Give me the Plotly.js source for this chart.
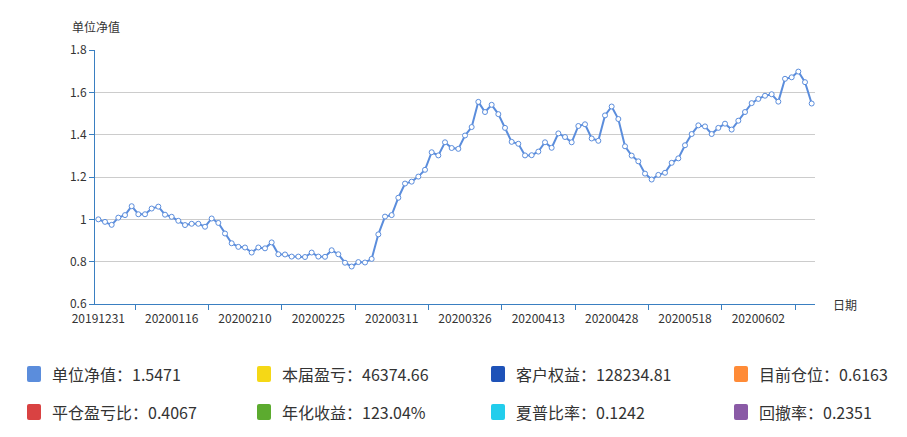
<!DOCTYPE html>
<html>
<head>
<meta charset="utf-8">
<script src="https://cdn.plot.ly/plotly-3.0.1.min.js"></script>
<style>
html,body{margin:0;padding:0;background:#fff;}
#chart{width:907px;height:437px;}
</style>
</head>
<body>
<div id="chart"></div>
<script>
// trading dates (categories)
const dates = [
"20191231",
"20200102","20200103","20200106","20200107","20200108","20200109","20200110","20200113","20200114","20200115",
"20200116","20200117","20200120","20200121","20200122","20200123",
"20200203","20200204","20200205","20200206","20200207",
"20200210","20200211","20200212","20200213","20200214","20200217","20200218","20200219","20200220","20200221",
"20200224","20200225","20200226","20200227","20200228",
"20200302","20200303","20200304","20200305","20200306","20200309","20200310",
"20200311","20200312","20200313","20200316","20200317","20200318","20200319","20200320","20200323","20200324","20200325",
"20200326","20200327","20200330","20200331",
"20200401","20200402","20200403","20200407","20200408","20200409","20200410",
"20200413","20200414","20200415","20200416","20200417","20200420","20200421","20200422","20200423","20200424","20200427",
"20200428","20200429","20200430",
"20200506","20200507","20200508","20200511","20200512","20200513","20200514","20200515",
"20200518","20200519","20200520","20200521","20200522","20200525","20200526","20200527","20200528","20200529",
"20200601","20200602","20200603","20200604","20200605","20200608","20200609","20200610","20200611","20200612"
];

// unit net value series
const navValues = [
1.000,0.988,0.974,1.008,1.020,1.062,1.024,1.024,1.051,1.060,
1.022,1.012,0.993,0.973,0.979,0.979,0.965,1.004,0.983,0.933,
0.887,0.870,0.867,0.843,0.867,0.863,0.891,0.835,0.834,0.824,
0.824,0.822,0.843,0.824,0.823,0.854,0.835,0.795,0.777,0.798,
0.796,0.813,0.929,1.013,1.020,1.102,1.169,1.178,1.202,1.234,
1.317,1.302,1.364,1.337,1.333,1.396,1.436,1.555,1.507,1.541,
1.497,1.432,1.366,1.357,1.302,1.303,1.320,1.364,1.338,1.406,
1.389,1.364,1.441,1.449,1.382,1.371,1.491,1.533,1.474,1.345,
1.301,1.274,1.216,1.188,1.210,1.220,1.267,1.288,1.350,1.403,
1.444,1.439,1.403,1.432,1.452,1.424,1.466,1.507,1.549,1.569,
1.584,1.591,1.556,1.664,1.671,1.698,1.648,1.5471
];

// stats legend
const statLabels = ["单位净值","本届盈亏","客户权益","目前仓位","平仓盈亏比","年化收益","夏普比率","回撤率"];
const statValues = ["1.5471","46374.66","128234.81","0.6163","0.4067","123.04%","0.1242","0.2351"];
const statColors = ["#5b8ddc","#f5d816","#1e52b8","#ff8b37","#d94242","#5cab2f","#22cdec","#8a5aa6"];

const yTitle = "单位净值";
const xTitle = "日期";

const lineColor = "#5b8ddc";
const axisColor = "#3a7fc1";
const font = "'Noto Sans CJK SC','Noto Sans',sans-serif";

const labelStep = 11;
const tickDates = dates.filter((d,i)=> i % labelStep === 0);
const betweenTicks = [];
for (let i = labelStep/2; i < dates.length; i += labelStep) betweenTicks.push(i);

const trace = {
  type: "scatter",
  mode: "lines+markers",
  x: dates,
  y: navValues,
  line: {color: lineColor, width: 2},
  marker: {symbol: "circle", size: 5, color: "#ffffff", line: {color: lineColor, width: 1}},
  hoverinfo: "x+y",
  showlegend: false
};

// empty helper trace so the tick-only overlay axis is drawn
const tickHelper = {
  type: "scatter", mode: "lines",
  x: betweenTicks, y: betweenTicks.map(() => null),
  xaxis: "x2", yaxis: "y",
  hoverinfo: "skip", showlegend: false
};

const colX = [27, 257, 491, 734];
const rowY = [374, 412];
const W = 907, H = 437;
const shapes = [];
const annotations = [];
statLabels.forEach((lab, i) => {
  const c = i % 4, r = Math.floor(i / 4);
  const x0 = colX[c], yc = rowY[r];
  shapes.push({
    type: "path", xref: "paper", yref: "paper",
    path: (function(){
      const w=14,h=16,rr=2;
      const L=x0, R=x0+w, T=yc-h/2, B=yc+h/2;
      const px = v => ((v-95)/(815-95));
      const py = v => ((304-v)/(304-50));
      return `M ${px(L+rr)} ${py(T)} L ${px(R-rr)} ${py(T)} Q ${px(R)} ${py(T)} ${px(R)} ${py(T+rr)} L ${px(R)} ${py(B-rr)} Q ${px(R)} ${py(B)} ${px(R-rr)} ${py(B)} L ${px(L+rr)} ${py(B)} Q ${px(L)} ${py(B)} ${px(L)} ${py(B-rr)} L ${px(L)} ${py(T+rr)} Q ${px(L)} ${py(T)} ${px(L+rr)} ${py(T)} Z`;
    })(),
    fillcolor: statColors[i], line: {width: 0}
  });
  annotations.push({
    xref: "paper", yref: "paper",
    x: (x0 + 23 - 95) / (815 - 95), y: (304 - yc) / (304 - 50),
    xanchor: "left", yanchor: "middle",
    text: lab + "：" + statValues[i],
    showarrow: false,
    font: {family: font, size: 16, color: "#333333"}
  });
});

annotations.push({
  xref: "paper", yref: "paper",
  x: (70 - 95) / (815 - 95), y: (304 - 27) / (304 - 50),
  xanchor: "left", yanchor: "middle",
  text: yTitle, showarrow: false,
  font: {family: font, size: 12, color: "#333333"}
});
annotations.push({
  xref: "paper", yref: "paper",
  x: (831 - 95) / (815 - 95), y: 0,
  xanchor: "left", yanchor: "middle",
  text: xTitle, showarrow: false,
  font: {family: font, size: 12, color: "#333333"}
});

const layout = {
  width: W, height: H,
  margin: {l: 95, r: 92, t: 50, b: 133},
  paper_bgcolor: "#ffffff",
  plot_bgcolor: "#ffffff",
  font: {family: font, size: 12, color: "#333333"},
  xaxis: {
    type: "category",
    range: [-0.5, dates.length - 0.5],
    tickvals: tickDates,
    ticktext: tickDates,
    ticks: "",
    ticklabelstandoff: 4,
    showgrid: false,
    zeroline: false,
    showline: true, linecolor: axisColor, linewidth: 1,
    tickfont: {family: font, size: 12, color: "#333333"},
    tickangle: 0,
    fixedrange: true
  },
  xaxis2: {
    type: "linear",
    overlaying: "x",
    anchor: "y",
    side: "bottom",
    range: [-0.5, dates.length - 0.5],
    tickmode: "array",
    tickvals: betweenTicks,
    showticklabels: false,
    ticks: "outside", ticklen: 5, tickcolor: axisColor, tickwidth: 1,
    showgrid: false, zeroline: false, showline: false,
    fixedrange: true
  },
  yaxis: {
    range: [0.6, 1.8],
    dtick: 0.2,
    tick0: 0.6,
    ticks: "outside", ticklen: 5, tickcolor: axisColor,
    showline: true, linecolor: axisColor, linewidth: 1,
    gridcolor: "#cccccc", gridwidth: 1,
    zeroline: false,
    tickfont: {family: font, size: 12, color: "#333333"},
    fixedrange: true
  },
  showlegend: false,
  shapes: shapes,
  annotations: annotations
};

Plotly.newPlot("chart", [trace, tickHelper], layout, {displayModeBar: false, staticPlot: true});
</script>
</body>
</html>
